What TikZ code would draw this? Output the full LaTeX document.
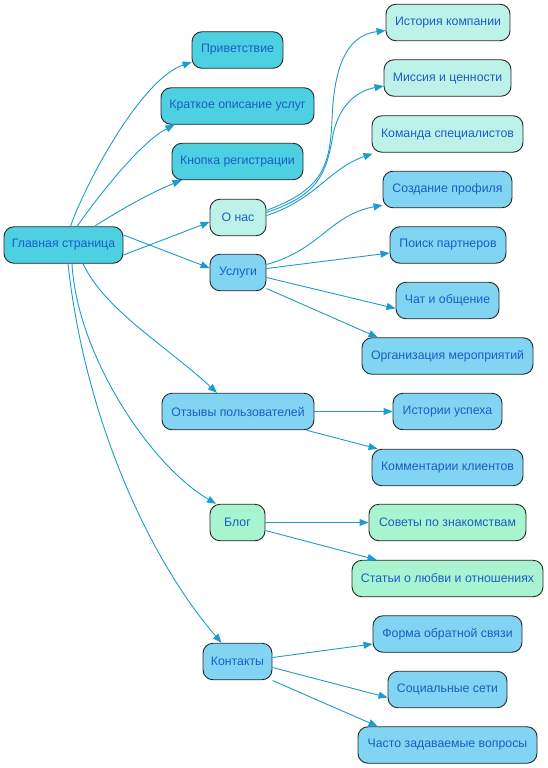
\documentclass[tikz,border=0pt]{standalone}
\usepackage{fontspec}
\setmainfont{Liberation Sans}
\usetikzlibrary{arrows.meta}
\definecolor{cTop}{RGB}{77,208,225}
\definecolor{cMint}{RGB}{188,242,232}
\definecolor{cBlue}{RGB}{129,212,242}
\definecolor{cGreen}{RGB}{168,244,208}
\definecolor{cText}{RGB}{30,92,200}
\definecolor{cEdge}{RGB}{27,155,209}
\definecolor{cBorder}{RGB}{40,40,40}
\tikzset{
  box/.style={draw=cBorder, line width=0.9pt, rounded corners=10pt, minimum width=#1pt,
    minimum height=36.5pt, inner sep=0pt, text=cText, font=\fontsize{12.3}{14}\selectfont},
  topbox/.style={box=#1, fill=cTop},
  mintbox/.style={box=#1, fill=cMint},
  bluebox/.style={box=#1, fill=cBlue},
  greenbox/.style={box=#1, fill=cGreen},
  edge/.style={draw=cEdge, line width=0.9pt, -{Triangle[length=9pt,width=7pt]}},
}
\begin{document}
\begin{tikzpicture}[x=1pt,y=-1pt]
\useasboundingbox (0,0) rectangle (548,768);
% nodes
\node[topbox=119] (main) at (63.5,245) {Главная страница};
\node[topbox=91] (priv) at (237.5,50) {Приветствие};
\node[topbox=153] (brief) at (237.5,106) {Краткое описание услуг};
\node[topbox=131] (btn) at (237.5,161.5) {Кнопка регистрации};
\node[mintbox=56] (about) at (238,217.5) {О нас};
\node[bluebox=56] (serv) at (238,272.5) {Услуги};
\node[bluebox=152] (rev) at (238,411.5) {Отзывы пользователей};
\node[greenbox=55] (blog) at (237.5,522.5) {Блог};
\node[bluebox=69] (cont) at (237.5,661.5) {Контакты};
\node[mintbox=124] (hist) at (448,22.5) {История компании};
\node[mintbox=127] (miss) at (447.5,78) {Миссия и ценности};
\node[mintbox=151] (team) at (447.5,134) {Команда специалистов};
\node[bluebox=129] (prof) at (447.5,189.5) {Создание профиля};
\node[bluebox=116] (search) at (448,245) {Поиск партнеров};
\node[bluebox=103] (chat) at (447.5,300.5) {Чат и общение};
\node[bluebox=171] (events) at (447.5,356) {Организация мероприятий};
\node[bluebox=109] (succ) at (447.5,411.5) {Истории успеха};
\node[bluebox=151] (comm) at (447.5,467.5) {Комментарии клиентов};
\node[greenbox=157] (tips) at (447.5,522.5) {Советы по знакомствам};
\node[greenbox=191] (art) at (447.5,578.5) {Статьи о любви и отношениях};
\node[bluebox=149] (form) at (447.5,634) {Форма обратной связи};
\node[bluebox=119] (soc) at (447.5,689.5) {Социальные сети};
\node[bluebox=179] (faq) at (447.5,745) {Часто задаваемые вопросы};
% edges from main
\draw[edge] ([xshift=7pt]main.north) .. controls (85,185) and (140,80) .. ([yshift=-12pt]priv.west);
\draw[edge] ([xshift=13.5pt]main.north) .. controls (110,180) and (145,140) .. ([xshift=14pt]brief.south west);
\draw[edge] ([xshift=31pt]main.north) .. controls (120,210) and (150,193) .. ([xshift=10pt]btn.south west);
\draw[edge] ([yshift=-10pt]main.east) -- ([yshift=-4.5pt]about.west);
\draw[edge] ([yshift=10pt]main.east) -- ([yshift=4.5pt]serv.west);
\draw[edge] ([xshift=19.5pt]main.south) .. controls (105,310) and (165,345) .. ([xshift=-21pt]rev.north);
\draw[edge] ([xshift=8.5pt]main.south) .. controls (77,355) and (150,465) .. ([xshift=-21.5pt]blog.north);
\draw[edge] ([xshift=4.5pt]main.south) .. controls (85,420) and (150,560) .. ([xshift=-16pt]cont.north);
% edges from about
\draw[edge] ([yshift=7pt]about.east) .. controls (320,190) and (330,170) .. (332,120)
  .. controls (334,60) and (350,35) .. ([yshift=-8pt]hist.west);
\draw[edge] ([yshift=5pt]about.east) .. controls (318,195) and (326,175) .. (333,135)
  .. controls (340,100) and (362,90) .. ([yshift=-8pt]miss.west);
\draw[edge] ([yshift=2pt]about.east) .. controls (315,200) and (330,168) .. ([xshift=1pt,yshift=-1pt]team.south west);
% edges from services
\draw[edge] ([yshift=8pt]serv.east) .. controls (320,250) and (330,215) .. ([xshift=0pt,yshift=3pt]prof.south west);
\draw[edge] ([yshift=4pt]serv.east) -- ([yshift=-8pt]search.west);
\draw[edge] ([yshift=-5pt]serv.east) -- ([yshift=-8pt]chat.west);
\draw[edge] ([yshift=-16pt]serv.east) -- ([xshift=16pt]events.north west);
% reviews
\draw[edge] (rev.east) -- (succ.west);
\draw[edge] ([xshift=-8pt]rev.south east) -- ([xshift=6pt]comm.north west);
% blog
\draw[edge] (blog.east) -- (tips.west);
\draw[edge] ([yshift=-8pt]blog.east) -- ([xshift=25pt]art.north west);
% contacts
\draw[edge] ([yshift=4pt]cont.east) -- ([yshift=-10pt]form.west);
\draw[edge] ([yshift=-6pt]cont.east) -- ([yshift=-8pt]soc.west);
\draw[edge] ([yshift=-19pt]cont.east) -- ([xshift=20pt]faq.north west);
\end{tikzpicture}
\end{document}
